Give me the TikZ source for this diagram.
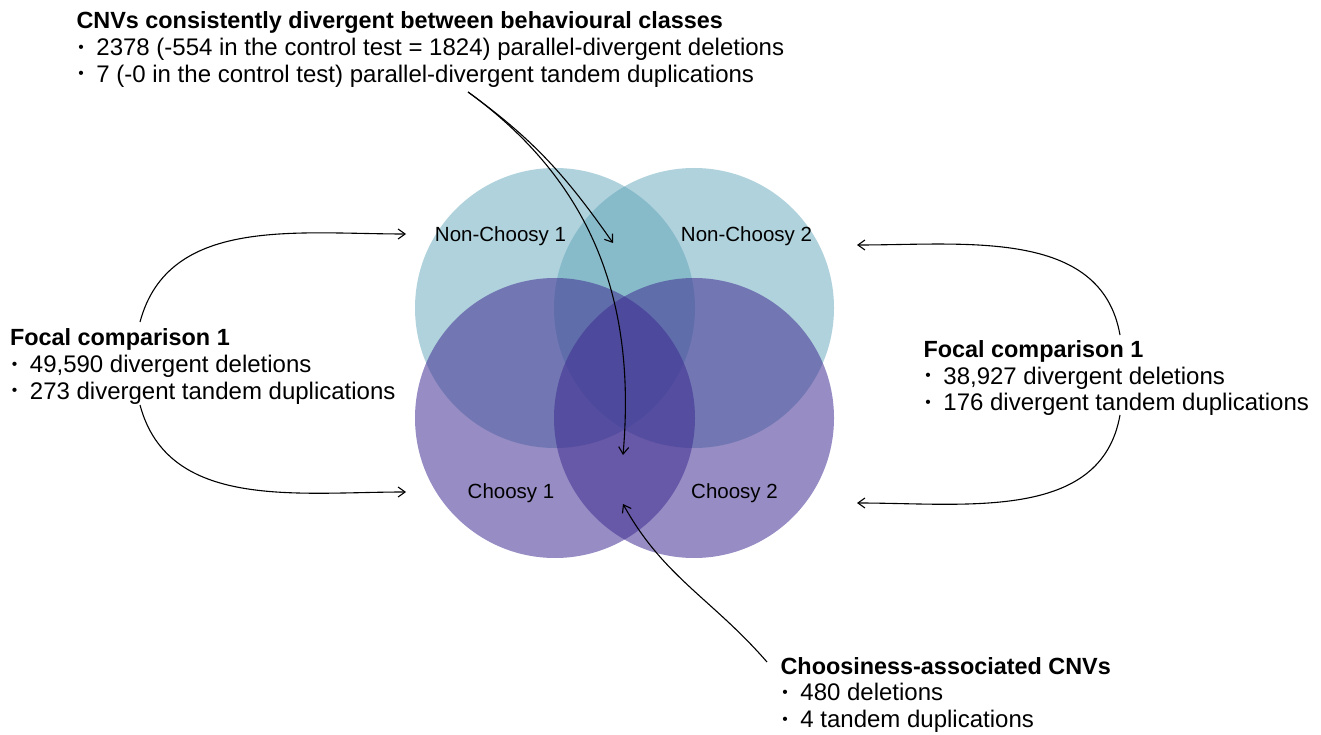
\documentclass[tikz,border=0pt]{standalone}
\usepackage{fontspec}
\setmainfont{Liberation Sans}
\usetikzlibrary{arrows.meta,positioning}
\definecolor{ncblue}{RGB}{97,165,185}
\definecolor{chpurple}{RGB}{62,43,145}
\newcommand\bul{\hspace{.08em}\raisebox{.13em}{\scalebox{.65}{\textbullet}}\hspace{.52em}}
\newcommand\ttl[1]{{\fontsize{23.4}{26.7}\selectfont\bfseries #1}}
\tikzset{
    -{Straight Barb[length=7pt,width=10pt]},
    venn/.style ={circle, minimum size=280pt, inner sep=0pt},
    nonchoosy/.style = {venn, fill=ncblue, fill opacity=0.5},
    choosy/.style = {venn, fill=chpurple, fill opacity=0.54},
    setlabel/.style = {anchor=base, inner sep=0pt, font=\fontsize{20.5}{24}\selectfont},
    info/.style = {anchor=north west, align=left, inner sep=0pt, font=\fontsize{24}{26.7}\selectfont}
}

\begin{document}
\begin{tikzpicture}[x=1pt,y=1pt,line width=1.1pt]
    \useasboundingbox (0,0) rectangle (1321,734);

    % the four sets
    \node[nonchoosy] (nc1) at (555,426) {};
    \node[nonchoosy] (nc2) at (694,426) {};
    \node[choosy] (ch1) at (555,316) {};
    \node[choosy] (ch2) at (694,316) {};

    \node[setlabel] (nc1lbl) at (500.5,492) {Non-Choosy 1};
    \node[setlabel] (nc2lbl) at (746.5,492) {Non-Choosy 2};
    \node[setlabel] (ch1lbl) at (511,236) {Choosy 1};
    \node[setlabel] (ch2lbl) at (734.5,236) {Choosy 2};

    % text blocks
    \node[info] (cnv) at (76,722.8) {\ttl{CNVs consistently divergent between behavioural classes}\\
        \bul 2378 (-554 in the control test = 1824) parallel-divergent deletions\\
        \bul 7 (-0 in the control test) parallel-divergent tandem duplications};
    \node[info] (focL) at (9.5,405.8) {\ttl{Focal comparison 1}\\
        \bul 49,590 divergent deletions\\
        \bul 273 divergent tandem duplications};
    \node[info] (focR) at (923,394.1) {\ttl{Focal comparison 1}\\
        \bul 38,927 divergent deletions\\
        \bul 176 divergent tandem duplications};
    \node[info] (assoc) at (780,77.5) {\ttl{Choosiness-associated CNVs}\\
        \bul 480 deletions\\
        \bul 4 tandem duplications};

    % arrow ends
    \coordinate (cnvTail) at (468,642);
    \coordinate (pairNC) at (613,491);
    \coordinate (allFour) at (623,279);
    \coordinate (focLtop) at (140,412);
    \coordinate (focLbot) at (140,329);
    \coordinate (toNC1) at (406,500);
    \coordinate (toCh1) at (406,242);
    \coordinate (focRtop) at (1120,399);
    \coordinate (focRbot) at (1120,319);
    \coordinate (toNC2) at (857,489);
    \coordinate (toCh2) at (857,231);
    \coordinate (assocTail) at (767,72);
    \coordinate (pairCh) at (623,230);

    \path (cnvTail) edge[out=-36, in=125] (pairNC);
    \path (cnvTail) edge[out=-36, in=85] (allFour);
    \path (focLtop) edge[out=75, in=180] (toNC1);
    \path (focLbot) edge[out=-75, in=180] (toCh1);
    \path (focRtop) edge[out=100, in=0] (toNC2);
    \path (focRbot) edge[out=-100, in=0] (toCh2);
    \path (assocTail) edge[out=131, in=-61] (pairCh);

\end{tikzpicture}
\end{document}
